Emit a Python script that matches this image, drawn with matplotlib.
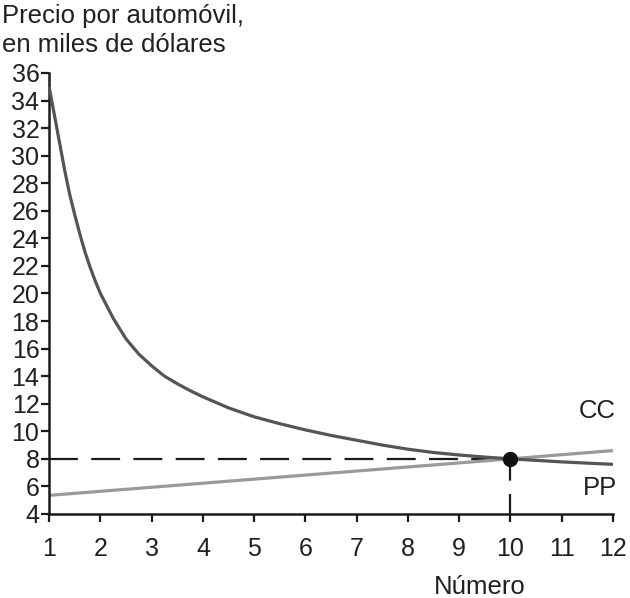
import matplotlib
matplotlib.use("Agg")
import matplotlib.pyplot as plt

plt.rcParams['font.family'] = ['Liberation Sans', 'DejaVu Sans']

# CC curve
cc_x = [1, 1.1, 1.2, 1.3, 1.4, 1.5, 1.6, 1.7, 1.8, 1.9, 2, 2.25, 2.5, 2.75,
        3, 3.25, 3.5, 3.75, 4, 4.5, 5, 5.5, 6, 6.5, 7, 7.5, 8, 8.5, 9, 9.5,
        10, 11, 12]
cc_y = [35.0, 33.0, 31.0, 29.0, 27.2, 25.7, 24.3, 23.0, 21.9, 20.9, 20.0, 18.2,
        16.7, 15.6, 14.75, 14.0, 13.45, 12.95, 12.5, 11.7, 11.05, 10.55, 10.1, 9.7,
        9.35, 9.0, 8.7, 8.46, 8.28, 8.13, 8.0, 7.78, 7.6]

# PP line
pp_x = [1, 10, 12]
pp_y = [5.35, 8.0, 8.6]

# equilibrium
eq_n = 10
eq_p = 8

x_ticks = list(range(1, 13))
y_ticks = list(range(4, 37, 2))

txt = '#231f20'

fig = plt.figure(figsize=(6.3, 5.98), dpi=100)
ax = fig.add_axes([0.078, 0.1405, 0.895, 0.7375])

ax.plot(cc_x, cc_y, color='#555555', lw=2.3, solid_capstyle='butt',
        solid_joinstyle='round', zorder=3)
ax.plot(pp_x, pp_y, color='#9a9a9a', lw=2.3, solid_capstyle='butt', zorder=2)

dash = (0, (13, 6))
ax.plot([1, eq_n], [eq_p, eq_p], color='#1a1a1a', lw=1.6, linestyle=dash, zorder=1)
ax.plot([eq_n, eq_n], [4, eq_p], color='#1a1a1a', lw=1.6, linestyle=(4, (13, 6)), zorder=1)
ax.plot([eq_n], [eq_p], 'o', color='#111111', ms=10, zorder=5)

ax.set_xlim(1, 12)
ax.set_ylim(4, 36)
ax.set_xticks(x_ticks)
ax.set_yticks(y_ticks)
ax.tick_params(axis='both', direction='out', width=1.6, length=5.5, color='#1a1a1a',
               labelsize=18, labelcolor=txt)
ax.tick_params(axis='y', pad=1.5)
ax.tick_params(axis='x', pad=11)
for s in ['top', 'right']:
    ax.spines[s].set_visible(False)
for s in ['left', 'bottom']:
    ax.spines[s].set_linewidth(1.8)
    ax.spines[s].set_color('#1a1a1a')

ax.text(11.7, 11.5, 'CC', fontsize=18.5, color=txt, ha='center', va='center')
ax.text(11.75, 5.85, 'PP', fontsize=18.5, color=txt, ha='center', va='center')

fig.text(0.003, 0.993, 'Precio por automóvil,\nen miles de dólares', fontsize=18.5,
         color=txt, ha='left', va='top', linespacing=1.27)
fig.text(0.762, 0.019, 'Número', fontsize=18.5, color=txt, ha='center', va='center')

fig.savefig('out.png', dpi=100)
